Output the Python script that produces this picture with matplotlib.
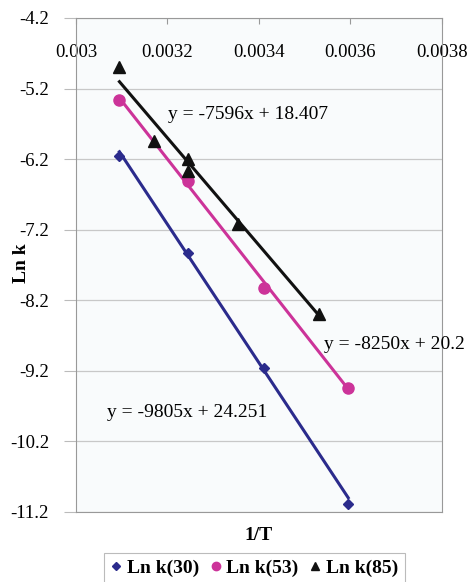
import numpy as np
import matplotlib
matplotlib.use("Agg")
import matplotlib.pyplot as plt

plt.rcParams['font.family'] = ['Liberation Serif', 'DejaVu Serif']

# 1/T values (K^-1) and ln k for each series
x30 = [0.003095, 0.003245, 0.003411, 0.003595]
y30 = [-6.15, -7.53, -9.16, -11.08]

x53 = [0.003095, 0.003245, 0.003411, 0.003595]
y53 = [-5.36, -6.51, -8.03, -9.45]

x85 = [0.003095, 0.003170, 0.003245, 0.003245, 0.003355, 0.003532]
y85 = [-4.90, -5.94, -6.20, -6.37, -7.12, -8.39]

# linear fits shown on the chart
fits = {
    '30': (-9805, 24.251),
    '53': (-8250, 20.2),
    '85': (-7596, 18.407),
}

xticks = [0.003, 0.0032, 0.0034, 0.0036, 0.0038]
xticklabels = ['0.003', '0.0032', '0.0034', '0.0036', '0.0038']
yticks = [-4.2, -5.2, -6.2, -7.2, -8.2, -9.2, -10.2, -11.2]

c30 = '#2b2b8c'
c53 = '#cc3399'
c85 = '#111111'

fig = plt.figure(figsize=(4.69, 5.82), dpi=100)
ax = fig.add_axes([0.162, 0.1203, 0.7804, 0.8488])
ax.set_facecolor('#f9fbfc')

for xs, ys, key, col, mk, ms in [(x30, y30, '30', c30, 'D', 5),
                                 (x53, y53, '53', c53, 'o', 8),
                                 (x85, y85, '85', c85, '^', 8.5)]:
    ax.plot(xs, ys, linestyle='none', marker=mk, color=col, markersize=ms,
            label='Ln k(%s)' % key, zorder=3)
    m, b = fits[key]
    xl = np.array([min(xs), max(xs)])
    ax.plot(xl, m * xl + b, color=col, linewidth=2.2, zorder=2)

ax.set_xlim(0.003, 0.0038)
ax.set_ylim(-11.2, -4.2)
ax.set_xticks(xticks)
ax.set_xticklabels(xticklabels, fontsize=13.5)
ax.set_yticks(yticks)
ax.set_yticklabels(['%.1f' % v for v in yticks], fontsize=13.5)

ax.grid(axis='y', color='#c8c8c8', linewidth=0.9)
ax.set_axisbelow(True)
for s in ax.spines.values():
    s.set_color('#999999')

ax.tick_params(axis='x', top=True, bottom=False, labeltop=True,
               labelbottom=False, direction='in', length=4,
               color='#999999', pad=-31)
ax.tick_params(axis='y', direction='out', length=9, color='#bbbbbb', pad=10.5)

ax.text(0.003201, -5.57, 'y = -7596x + 18.407', fontsize=14, va='center')
ax.text(0.003542, -8.82, 'y = -8250x + 20.2', fontsize=14, va='center')
ax.text(0.003068, -9.795, 'y = -9805x + 24.251', fontsize=14, va='center')

# y label sits tight against the tick labels
fig.text(21 / 469, 1 - 263 / 582, 'Ln k', rotation=90, ha='center',
         va='center', fontsize=14, fontweight='bold')
ax.set_xlabel('1/T', fontsize=14, fontweight='bold', labelpad=11)

leg = fig.legend(loc='lower center', bbox_to_anchor=(0.543, -0.02), ncol=3,
                 prop={'weight': 'bold', 'size': 14},
                 handlelength=0.5, handletextpad=0.3, columnspacing=0.6,
                 frameon=True, fancybox=False, borderpad=0.35,
                 markerscale=0.75)
leg.get_frame().set_edgecolor('#aaaaaa')
leg.get_frame().set_linewidth(0.8)

fig.savefig('out.png', dpi=100)
